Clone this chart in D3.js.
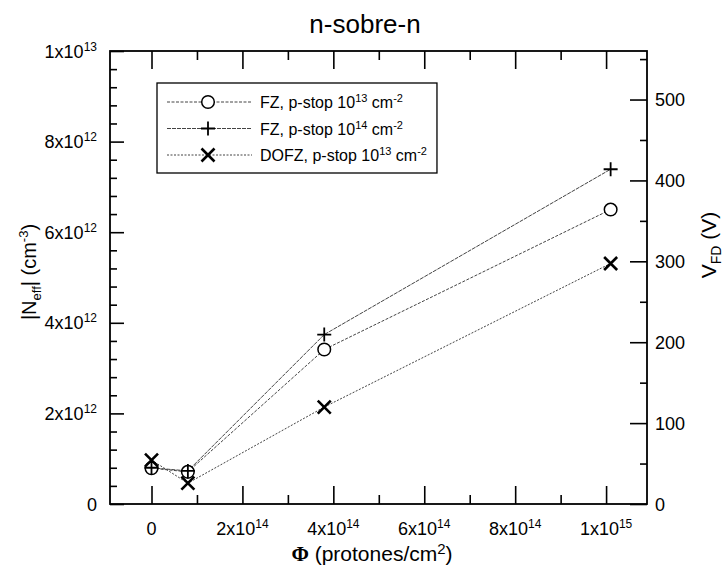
<!DOCTYPE html>
<html>
<head>
<meta charset="utf-8">
<script src="https://cdn.jsdelivr.net/npm/d3@7"></script>
<style>
  body { margin: 0; background: #fff; }
  svg text { font-family: "Liberation Sans", Arial, Helvetica, sans-serif; fill: #000; }
</style>
</head>
<body>
<div id="chart-container"></div>
<script>
// Values
var fluence = [0, 0.8e14, 3.8e14, 1.01e15];
var neffFZ13 = [0.79e12, 0.71e12, 3.41e12, 6.5e12];
var neffFZ14 = [0.8e12, 0.73e12, 3.74e12, 7.39e12];
var neffDOFZ13 = [0.97e12, 0.46e12, 2.14e12, 5.31e12];

var seriesNames = ["FZ, p-stop 10", "FZ, p-stop 10", "DOFZ, p-stop 10"];
var seriesExps = ["13", "14", "13"];
var seriesMarkers = ["circle", "plus", "cross"];

// Tick labels
var xTicks = [0, 2e14, 4e14, 6e14, 8e14, 1e15];
var xTickBase = ["0", "2x10", "4x10", "6x10", "8x10", "1x10"];
var xTickExp = ["", "14", "14", "14", "14", "15"];
var xMinorTicks = [1e14, 3e14, 5e14, 7e14, 9e14];

var yTicks = [0, 2e12, 4e12, 6e12, 8e12, 1e13];
var yTickBase = ["0", "2x10", "4x10", "6x10", "8x10", "1x10"];
var yTickExp = ["", "12", "12", "12", "12", "13"];
var yMinorTicks = d3.range(0.4e12, 1e13, 0.4e12).filter(function(v) { return Math.abs(v / 2e12 - Math.round(v / 2e12)) > 0.01; });

var vTicks = [0, 100, 200, 300, 400, 500];
var vMinorTicks = [50, 150, 250, 350, 450, 550];

// Frame geometry
var margin = { top: 51, right: 76, bottom: 62, left: 110 },
  width = 723 - margin.left - margin.right,
  height = 566 - margin.top - margin.bottom;

var svg = d3.select("#chart-container")
  .append("svg")
  .attr("width", 723)
  .attr("height", 566);

var g = svg.append("g")
  .attr("transform", "translate(" + margin.left + "," + margin.top + ")");

// Scales
var xScale = d3.scaleLinear().domain([-0.913e14, 1.09e15]).range([0, width]);
var yScale = d3.scaleLinear().domain([0, 1e13]).range([height, 0]);
var vScale = d3.scaleLinear().domain([0, 560]).range([height, 0]);

// Ticks (inward), labels drawn separately for superscripts
function tickAxis(axis, values, size) {
  return axis.tickValues(values).tickSize(size).tickSizeOuter(0).tickFormat("");
}

g.append("g").attr("transform", "translate(0," + height + ")").call(tickAxis(d3.axisBottom(xScale), xTicks, -18));
g.append("g").attr("transform", "translate(0," + height + ")").call(tickAxis(d3.axisBottom(xScale), xMinorTicks, -9));
g.append("g").call(tickAxis(d3.axisTop(xScale), xTicks, -18));
g.append("g").call(tickAxis(d3.axisTop(xScale), xMinorTicks, -9));
g.append("g").call(tickAxis(d3.axisLeft(yScale), yTicks, -14));
g.append("g").call(tickAxis(d3.axisLeft(yScale), yMinorTicks, -7));
g.append("g").attr("transform", "translate(" + width + ",0)").call(tickAxis(d3.axisRight(vScale), vTicks, -17));
g.append("g").attr("transform", "translate(" + width + ",0)").call(tickAxis(d3.axisRight(vScale), vMinorTicks, -7));

g.selectAll(".domain").remove();
g.selectAll(".tick line").attr("stroke", "#000").attr("stroke-width", 1.6);

// Frame
g.append("rect")
  .attr("width", width)
  .attr("height", height)
  .attr("fill", "none")
  .attr("stroke", "#000")
  .attr("stroke-width", 1.8);

// Tick labels
function supLabel(sel, base, exp, size, supSize) {
  sel.style("font-size", size + "px").text(base);
  if (exp) {
    sel.append("tspan").attr("dy", -7).style("font-size", supSize + "px").text(exp);
  }
}

xTicks.forEach(function(v, i) {
  var t = g.append("text")
    .attr("x", xScale(v))
    .attr("y", height + 31)
    .attr("text-anchor", "middle");
  supLabel(t, xTickBase[i], xTickExp[i], 18, 12);
});

yTicks.forEach(function(v, i) {
  var t = g.append("text")
    .attr("x", -13)
    .attr("y", yScale(v) + 6.5)
    .attr("text-anchor", "end");
  supLabel(t, yTickBase[i], yTickExp[i], 18, 12);
});

vTicks.forEach(function(v) {
  g.append("text")
    .attr("x", width + 8)
    .attr("y", vScale(v) + 6.5)
    .style("font-size", "18px")
    .text(v);
});

// Axis titles
var xTitle = svg.append("text")
  .attr("x", 372)
  .attr("y", 561)
  .attr("text-anchor", "middle")
  .style("font-size", "21px");
xTitle.append("tspan").style("font-family", "'Liberation Serif', 'DejaVu Serif', serif").style("font-weight", "bold").text("\u03A6");
xTitle.append("tspan").text(" (protones/cm");
xTitle.append("tspan").attr("dy", -7).style("font-size", "15px").text("2");
xTitle.append("tspan").attr("dy", 7).text(")");

var yTitle = svg.append("text")
  .attr("transform", "translate(36,272) rotate(-90)")
  .attr("text-anchor", "middle")
  .style("font-size", "20px");
yTitle.append("tspan").text("|N");
yTitle.append("tspan").attr("dy", 5).style("font-size", "13px").text("eff");
yTitle.append("tspan").attr("dy", -5).text("| (cm");
yTitle.append("tspan").attr("dy", -8).style("font-size", "13px").text("-3");
yTitle.append("tspan").attr("dy", 8).text(")");

var vTitle = svg.append("text")
  .attr("transform", "translate(716,245) rotate(-90)")
  .attr("text-anchor", "middle")
  .style("font-size", "21px");
vTitle.append("tspan").text("V");
vTitle.append("tspan").attr("dy", 5).style("font-size", "14px").text("FD");
vTitle.append("tspan").attr("dy", -5).text(" (V)");

// Chart title
svg.append("text")
  .attr("x", 365)
  .attr("y", 33)
  .attr("text-anchor", "middle")
  .style("font-size", "26px")
  .text("n-sobre-n");

// Series lines and markers
var allSeries = [neffFZ13, neffFZ14, neffDOFZ13];
var dashes = ["3,1.5", "4,1", "2,1.5"];

var line = d3.line()
  .x(function(d, i) { return xScale(fluence[i]); })
  .y(function(d) { return yScale(d); });

allSeries.forEach(function(s, k) {
  g.append("path")
    .datum(s)
    .attr("d", line)
    .attr("fill", "none")
    .attr("stroke", "#444")
    .attr("stroke-width", 1)
    .attr("stroke-dasharray", dashes[k]);
});

function drawMarker(sel, type, x, y) {
  if (type === "circle") {
    sel.append("circle")
      .attr("cx", x).attr("cy", y).attr("r", 6.3)
      .attr("fill", "#fff").attr("stroke", "#000").attr("stroke-width", 1.5);
  } else if (type === "plus") {
    sel.append("path")
      .attr("d", "M" + (x - 7) + "," + y + "H" + (x + 7) + "M" + x + "," + (y - 7) + "V" + (y + 7))
      .attr("stroke", "#000").attr("stroke-width", 1.8).attr("fill", "none");
  } else {
    sel.append("path")
      .attr("d", "M" + (x - 6.5) + "," + (y - 6.5) + "L" + (x + 6.5) + "," + (y + 6.5) +
        "M" + (x - 6.5) + "," + (y + 6.5) + "L" + (x + 6.5) + "," + (y - 6.5))
      .attr("stroke", "#000").attr("stroke-width", 2.6).attr("fill", "none");
  }
}

allSeries.forEach(function(s, k) {
  s.forEach(function(d, i) {
    drawMarker(g, seriesMarkers[k], xScale(fluence[i]), yScale(d));
  });
});

// Legend
var legend = svg.append("g").attr("class", "legend");
var legendBox = legend.append("rect")
  .attr("x", 157)
  .attr("y", 83)
  .attr("height", 90)
  .attr("fill", "#fff")
  .attr("stroke", "#000")
  .attr("stroke-width", 1.3);

var maxRight = 0;
seriesNames.forEach(function(name, k) {
  var cy = 102 + k * 26.5;
  legend.append("line")
    .attr("x1", 167).attr("x2", 252)
    .attr("y1", cy).attr("y2", cy)
    .attr("stroke", "#444")
    .attr("stroke-width", 1)
    .attr("stroke-dasharray", dashes[k]);
  drawMarker(legend, seriesMarkers[k], 208, cy);
  var t = legend.append("text")
    .attr("x", 260)
    .attr("y", cy + 6)
    .style("font-size", "16px")
    .text(name);
  t.append("tspan").attr("dy", -6).style("font-size", "11px").text(seriesExps[k]);
  t.append("tspan").attr("dy", 6).text(" cm");
  t.append("tspan").attr("dy", -6).style("font-size", "11px").text("-2");
  maxRight = Math.max(maxRight, 260 + t.node().getComputedTextLength());
});
legendBox.attr("width", maxRight + 10 - 157);
</script>
</body>
</html>
